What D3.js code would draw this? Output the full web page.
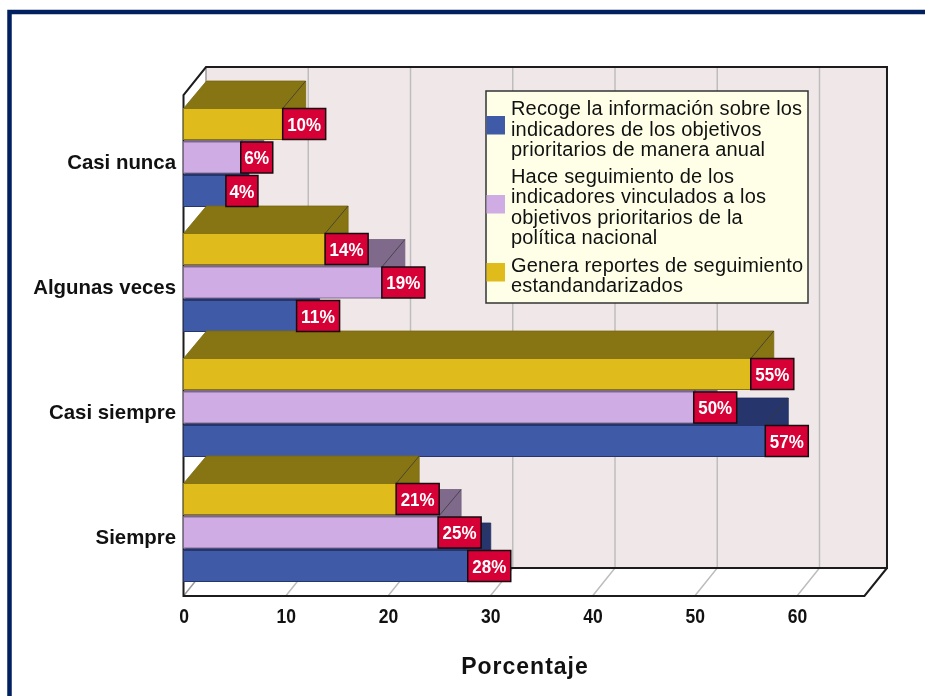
<!DOCTYPE html>
<html><head><meta charset="utf-8">
<script src="https://cdn.jsdelivr.net/npm/d3@7"></script>
<style>html,body{margin:0;padding:0;background:#fff;overflow:hidden}svg{display:block;filter:blur(0.35px)}text{font-family:"Liberation Sans",Arial,sans-serif}</style>
</head><body><div id="c"></div>
<script>
const categories = ["Casi nunca","Algunas veces","Casi siempre","Siempre"];
const seriesOrder = ["gold","lilac","blue"];
const goldValues  = [9.7,13.85,55.48,20.8];
const lilacValues = [5.6,19.4,49.9,24.9];
const blueValues  = [4.15,11.06,56.9,27.8];
const tickValues = [0,10,20,30,40,50,60];
const legendBlue  = ["Recoge la información sobre los","indicadores de los objetivos","prioritarios de manera anual"];
const legendLilac = ["Hace seguimiento de los","indicadores vinculados a los","objetivos prioritarios de la","política nacional"];
const legendGold  = ["Genera reportes de seguimiento","estandandarizados"];
const xTitle = "Porcentaje";

const W=925,H=696;
const dx=22.5,dy=28;
const barDx=23,barDy=27.5;
const front={top:95,bottom:596};
const xMaxValue=66.6;
const svg=d3.select("#c").append("svg").attr("width",W).attr("height",H);
svg.append("rect").attr("x",9.5).attr("y",12).attr("width",1200).attr("height",1200)
  .attr("fill","#fff").attr("stroke","#002060").attr("stroke-width",4.5);

const x=d3.scaleLinear().domain([0,60]).range([183.5,797]);
const y0=d3.scaleBand().domain(categories).range([108.5,581.5]).paddingInner(27/125);
const y1=d3.scaleBand().domain(seriesOrder).range([0,y0.bandwidth()]).paddingInner(2.5/33.5);
const colors={gold:{f:"#e0bb1c",d:"#877413"},lilac:{f:"#d0ace4",d:"#7f6a8c"},blue:{f:"#3f5ba8",d:"#26356b"}};
const vals={gold:goldValues,lilac:lilacValues,blue:blueValues};

const xL=x(0),xR=x(xMaxValue);
svg.append("rect").attr("x",xL+dx).attr("y",front.top-dy).attr("width",xR-xL).attr("height",front.bottom-front.top)
  .attr("fill","#f0e8e8");
tickValues.slice(1).forEach(t=>{
  svg.append("path").attr("d",`M${x(t)},${front.bottom}L${x(t)+dx},${front.bottom-dy}L${x(t)+dx},${front.top-dy}`)
    .attr("fill","none").attr("stroke","#bdbdbd").attr("stroke-width",1.5);
});
svg.append("path").attr("d",`M${xL},${front.bottom}L${xL+dx},${front.bottom-dy}L${xL+dx},${front.top-dy}`)
  .attr("fill","none").attr("stroke","#9a9a9a").attr("stroke-width",1.5);
svg.append("path").attr("d",`M${xL+dx},${front.bottom-dy}H${xR+dx}V${front.top-dy}H${xL+dx}L${xL},${front.top}V${front.bottom}H${xR}L${xR+dx},${front.bottom-dy}`)
  .attr("fill","none").attr("stroke","#1c1c1c").attr("stroke-width",2);

const labelData=[];
categories.forEach((c,i)=>{
  ["blue","lilac","gold"].forEach(s=>{
    const v=vals[s][i],xv=x(v),yt=y0(c)+y1(s),h=y1.bandwidth();
    const g=svg.append("g");
    g.append("path").attr("d",`M${xL},${yt}L${xL+barDx},${yt-barDy}H${xv+barDx}V${yt+h-barDy}L${xv},${yt+h}V${yt}Z`)
      .attr("fill",colors[s].d).attr("stroke",d3.color(colors[s].d).darker(0.3)).attr("stroke-width",0.8);
    g.append("line").attr("x1",xv).attr("y1",yt).attr("x2",xv+barDx).attr("y2",yt-barDy).attr("stroke","#3a3a3a").attr("stroke-width",0.8);
    g.append("rect").attr("x",xL).attr("y",yt).attr("width",xv-xL).attr("height",h)
      .attr("fill",colors[s].f).attr("stroke",d3.color(colors[s].d)).attr("stroke-width",1);
    labelData.push({v,xv,yt,h});
  });
});
labelData.forEach(d=>{
  const t=d3.format(".0f")(d.v)+"%";
  const w=t.length===2?32:43;
  svg.append("rect").attr("x",d.xv).attr("y",d.yt).attr("width",w).attr("height",d.h)
    .attr("fill","#d60036").attr("stroke","#1a0a10").attr("stroke-width",1.5);
  svg.append("text").attr("x",d.xv+w/2).attr("y",d.yt+d.h/2+6.5).attr("text-anchor","middle")
    .attr("fill","#fff").attr("font-weight","bold").attr("font-size",19)
    .attr("textLength",t.length===2?25:34).attr("lengthAdjust","spacingAndGlyphs").text(t);
});
categories.forEach(c=>{
  svg.append("text").attr("x",176).attr("y",y0(c)+y0.bandwidth()/2+11).attr("text-anchor","end")
    .attr("font-weight","bold").attr("font-size",20.4).attr("fill","#111").text(c);
});
const ax=svg.append("g").attr("transform",`translate(0,${front.bottom})`)
  .call(d3.axisBottom(x).tickValues(tickValues).tickSize(0).tickPadding(12).tickFormat(d3.format("d")));
ax.select(".domain").remove();
ax.selectAll("text").attr("font-size",20.5).attr("font-weight","bold").attr("fill","#111")
  .style("font-family",'"Liberation Sans",Arial,sans-serif')
  .attr("lengthAdjust","spacingAndGlyphs")
  .attr("textLength",function(){return this.textContent.length*9.75;});
svg.append("text").attr("x",525).attr("y",674).attr("text-anchor","middle").attr("font-weight","bold")
  .attr("font-size",23).attr("letter-spacing",1).attr("fill","#111").text(xTitle);

const lg=svg.append("g");
lg.append("rect").attr("x",486).attr("y",91).attr("width",322).attr("height",212)
  .attr("fill","#ffffe8").attr("stroke","#333").attr("stroke-width",1.5);
const lgItems=[[legendBlue,"blue",115,116],[legendLilac,"lilac",182.5,195],[legendGold,"gold",271.5,263]];
lgItems.forEach(([lines,s,yFirst,ys])=>{
  lg.append("rect").attr("x",486.5).attr("y",ys).attr("width",18.5).attr("height",18.5).attr("fill",colors[s].f);
  lines.forEach((t,i)=>{
    lg.append("text").attr("x",511).attr("y",yFirst+i*20.5).attr("font-size",20).attr("letter-spacing",0.18).attr("fill","#111").text(t);
  });
});
</script></body></html>
